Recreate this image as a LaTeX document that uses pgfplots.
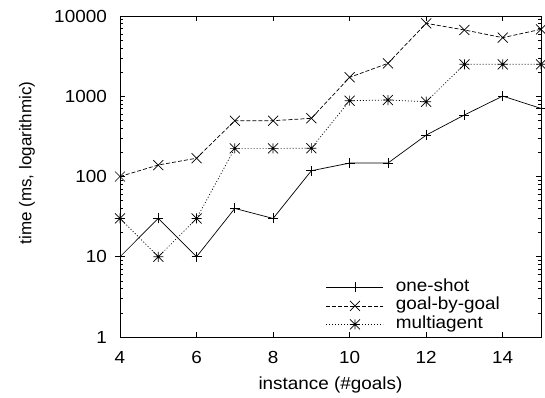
\documentclass[border=0pt]{standalone}
\usepackage{pgfplots}
\pgfplotsset{compat=1.18}
\usepackage{fontspec}
\setmainfont{Liberation Sans}
\newfontfamily\hfont[FakeStretch=1.08]{Liberation Sans}
\usetikzlibrary{plotmarks}
\pgfdeclareplotmark{gpstar}{%
  \pgfpathmoveto{\pgfqpoint{-5bp}{0bp}}\pgfpathlineto{\pgfqpoint{5bp}{0bp}}%
  \pgfpathmoveto{\pgfqpoint{0bp}{-5bp}}\pgfpathlineto{\pgfqpoint{0bp}{5bp}}%
  \pgfpathmoveto{\pgfqpoint{-5bp}{-5bp}}\pgfpathlineto{\pgfqpoint{5bp}{5bp}}%
  \pgfpathmoveto{\pgfqpoint{-5bp}{5bp}}\pgfpathlineto{\pgfqpoint{5bp}{-5bp}}%
  \pgfusepathqstroke}
\pgfdeclareplotmark{gpx}{%
  \pgfpathmoveto{\pgfqpoint{-5bp}{-5bp}}\pgfpathlineto{\pgfqpoint{5bp}{5bp}}%
  \pgfpathmoveto{\pgfqpoint{-5bp}{5bp}}\pgfpathlineto{\pgfqpoint{5bp}{-5bp}}%
  \pgfusepathqstroke}
\pgfdeclareplotmark{gpplus}{%
  \pgfpathmoveto{\pgfqpoint{-5bp}{0bp}}\pgfpathlineto{\pgfqpoint{5bp}{0bp}}%
  \pgfpathmoveto{\pgfqpoint{0bp}{-5bp}}\pgfpathlineto{\pgfqpoint{0bp}{5bp}}%
  \pgfusepathqstroke}
\begin{document}
\fontsize{17.5bp}{20bp}\selectfont
\begin{tikzpicture}
\path[use as bounding box] (-120bp,-61bp) rectangle (425bp,337bp);
\begin{axis}[
  scale only axis,
  width=421bp, height=321bp,
  xmin=4, xmax=15,
  ymode=log, ymin=1, ymax=10000,
  xtick={4,6,8,10,12,14},
  ytick={1,10,100,1000,10000},
  yticklabels={1,10,100,1000,10000},
  /pgf/number format/assume math mode=true,
  tick align=inside,
  major tick length=5bp, minor tick length=3bp,
  every tick/.style={black, line width=0.6bp},
  axis line style={line width=0.8bp},
  tick label style={font=\hfont\fontsize{17.5bp}{20bp}\selectfont, inner sep=0pt},
  yticklabel style={anchor=east},
  xticklabel style={anchor=north},
  yticklabel shift=13bp,
  xticklabel shift=14bp,
  xlabel={instance (\#goals)},
  ylabel={time (ms, logarithmic)},
  xlabel style={font=\hfont\fontsize{17.5bp}{20bp}\selectfont, at={(axis description cs:0.5,-0.15)}, anchor=center, inner sep=0pt},
  ylabel style={font=\fontsize{17bp}{20bp}\selectfont, at={(axis description cs:-0.221,0.542)}, anchor=center, inner sep=0pt},
  legend cell align=left,
  legend style={draw=none, fill=none, at={(axis description cs:0.482,0.19)}, anchor=north west,
    font=\hfont\fontsize{17.5bp}{20bp}\selectfont,
    nodes={inner sep=0pt, text height=13bp, text depth=5.5bp},
    row sep=0pt},
  legend image code/.code={%
    \draw[mark repeat=2,mark phase=2,#1] plot coordinates {(0bp,0bp) (28.5bp,0bp) (57bp,0bp)};
    \path (69bp,0bp);},
]
\addplot[black, line width=0.7bp, mark=gpplus, mark options={solid}] coordinates {
  (4,10) (5,30) (6,10) (7,40) (8,30) (9,118) (10,147) (11,147) (12,328) (13,585) (14,1005) (15,705)};
\addlegendentry{one-shot}
\addplot[black, line width=0.7bp, dash pattern=on 4bp off 2bp, mark=gpx, mark options={solid}] coordinates {
  (4,100) (5,139) (6,169) (7,496) (8,496) (9,531) (10,1720) (11,2570) (12,8100) (13,6700) (14,5370) (15,6830)};
\addlegendentry{goal-by-goal}
\addplot[black, line width=0.7bp, dash pattern=on 1bp off 2bp, mark=gpstar, mark options={solid}] coordinates {
  (4,30) (5,10) (6,30) (7,224) (8,224) (9,225) (10,880) (11,898) (12,855) (13,2500) (14,2500) (15,2500)};
\addlegendentry{multiagent}
\end{axis}
\end{tikzpicture}
\end{document}
